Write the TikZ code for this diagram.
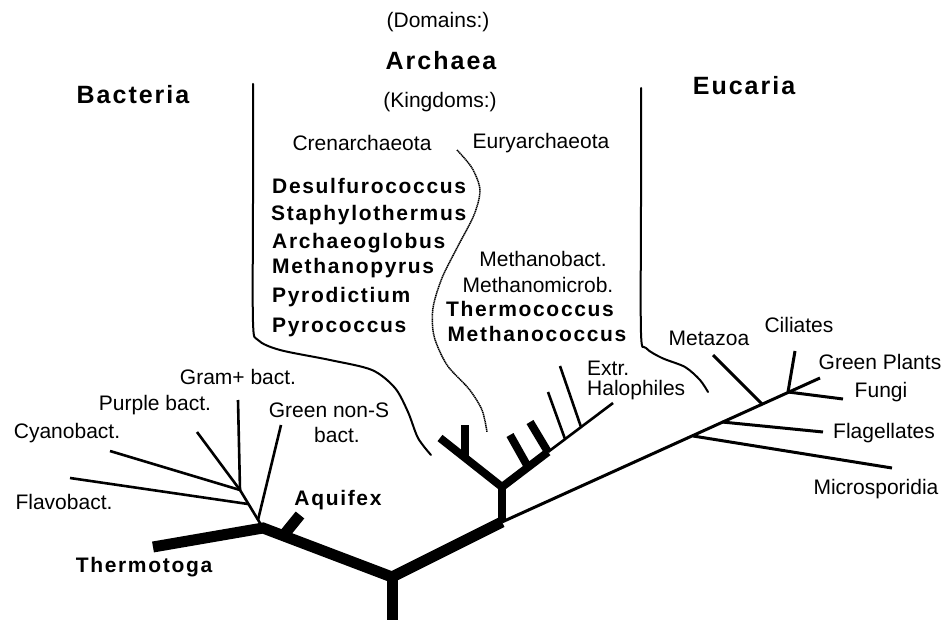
\documentclass[tikz,border=0pt]{standalone}
\usepackage{fontspec}
\setmainfont{Liberation Sans}
\newfontfamily\bsp[LetterSpace=8]{Liberation Sans}
\begin{document}
\begin{tikzpicture}[x=1pt,y=-1pt,
  lbl/.style={font=\fontsize{21}{24}\selectfont, inner sep=0pt},
  blbl/.style={font=\bsp\bfseries\fontsize{21}{24}\selectfont, inner sep=0pt},
  head/.style={font=\bsp\bfseries\fontsize{25}{28}\selectfont, inner sep=0pt},
  heavy/.style={line width=11pt, line cap=butt, line join=miter},
  medium/.style={line width=8pt, line cap=butt, line join=miter},
  thin/.style={line width=2.6pt, line cap=butt},
  euk/.style={line width=3pt, line cap=butt},
  bound/.style={line width=2pt, line cap=round},
  wavy/.style={line width=1.5pt, dash pattern=on 1.3pt off 0.6pt}]
\useasboundingbox (0,0) rectangle (948,620);
% ---- coordinates of the tree
\coordinate (base) at (392,620);
\coordinate (root) at (392,577);
\coordinate (bj) at (263,528);
\coordinate (thermo) at (153,547);
\coordinate (aqb) at (283,536);
\coordinate (aqt) at (300,515);
\coordinate (gnb) at (258,520);
\coordinate (gnt) at (281,425);
\coordinate (flb) at (248,504);
\coordinate (flt) at (70,478);
\coordinate (b3) at (240,490);
\coordinate (gpt) at (238,400);
\coordinate (put) at (197,432);
\coordinate (cyt) at (110,451);
\coordinate (aj) at (502,522);
\coordinate (aj2) at (502,487);
\coordinate (yl) at (440,438);
\coordinate (ysb) at (465,458);
\coordinate (yst) at (465,425);
\coordinate (rend) at (548,452);
\coordinate (rtip) at (613,403);
\coordinate (s1b) at (528,467);
\coordinate (s1t) at (510,435);
\coordinate (s2b) at (548,452);
\coordinate (s2t) at (530,422);
\coordinate (s3b) at (565,439);
\coordinate (s3t) at (548,392);
\coordinate (s4b) at (581,427);
\coordinate (s4t) at (560,366);
\coordinate (etip) at (820,378);
\coordinate (emi) at (693,436);
\coordinate (efl) at (722,422);
\coordinate (eme) at (762,404);
\coordinate (efu) at (788,392);
\coordinate (mit) at (892,468);
\coordinate (flgt) at (823,432);
\coordinate (met) at (713,355);
\coordinate (fut) at (843,399);
\coordinate (cit) at (795,351);
% ---- tree
\draw[heavy] (base) -- (root);
\draw[heavy] (thermo) -- (bj) -- (root) -- (aj);
\draw[heavy] (aqb) -- (aqt);
\draw[medium] (aj) -- (aj2);
\draw[medium] (yl) -- (aj2) -- (rend);
\draw[medium] (ysb) -- (yst);
\draw[medium] (s1b) -- (s1t);
\draw[medium] (s2b) -- (s2t);
\draw[thin] (rend) -- (rtip);
\draw[thin] (s3b) -- (s3t);
\draw[thin] (s4b) -- (s4t);
\draw[thin] (bj) -- (b3);
\draw[thin] (gnb) -- (gnt);
\draw[thin] (flb) -- (flt);
\draw[thin] (b3) -- (gpt);
\draw[thin] (b3) -- (put);
\draw[thin] (b3) -- (cyt);
\draw[euk] (aj) -- (etip);
\draw[euk] (emi) -- (mit);
\draw[euk] (efl) -- (flgt);
\draw[euk] (eme) -- (met);
\draw[euk] (efu) -- (fut);
\draw[euk] (efu) -- (cit);
% ---- boundaries
\draw[bound] plot[smooth] coordinates {(253,84) (253,200) (253,322) (258,340) (280,350) (330,360) (372,370) (395,388) (408,412) (418,438) (431,455)};
\draw[bound] plot[smooth] coordinates {(641,88) (641,200) (641,333) (646,348) (662,358) (685,367) (700,380) (708,392)};
\draw[wavy] plot[smooth] coordinates {(457,150) (472,168) (480,190) (474,215) (458,246) (442,278) (433,308) (434,336) (447,365) (469,389) (482,410) (487,432)};
% ---- labels
\node[lbl] (dom) at (438,22) {(Domains:)};
\node[head] (arch) at (441,61) {Archaea};
\node[head] (bact) at (133,95) {Bacteria};
\node[head] (euca) at (744,86) {Eucaria};
\node[lbl] (king) at (440,102) {(Kingdoms:)};
\node[lbl] (cren) at (362,143) {Crenarchaeota};
\node[lbl] (eury) at (541,143) {Euryarchaeota};
\node[blbl,anchor=west] (desu) at (272,186) {Desulfurococcus};
\node[blbl,anchor=west] (stap) at (271,215) {Staphylothermus};
\node[blbl,anchor=west] (arcg) at (272,243) {Archaeoglobus};
\node[blbl,anchor=west] (mepy) at (272,268) {Methanopyrus};
\node[blbl,anchor=west] (pydi) at (272,297) {Pyrodictium};
\node[blbl,anchor=west] (pyco) at (272,327) {Pyrococcus};
\node[lbl] (meba) at (543,259) {Methanobact.};
\node[lbl] (memi) at (538,285) {Methanomicrob.};
\node[blbl] (thco) at (530,309) {Thermococcus};
\node[blbl] (meco) at (537,334) {Methanococcus};
\node[lbl,anchor=west] (extr) at (587,368) {Extr.};
\node[lbl,anchor=west] (halo) at (587,390) {Halophiles};
\node[lbl] (gram) at (238,377) {Gram+ bact.};
\node[lbl] (purp) at (155,405) {Purple bact.};
\node[lbl] (cyan) at (67,433) {Cyanobact.};
\node[lbl] (gns) at (329,410) {Green non-S};
\node[lbl] (gns2) at (337,435) {bact.};
\node[lbl] (flav) at (64,502) {Flavobact.};
\node[blbl] (aqui) at (338,500) {Aquifex};
\node[blbl] (ther) at (144,567) {Thermotoga};
\node[lbl] (meta) at (709,338) {Metazoa};
\node[lbl] (cili) at (799,325) {Ciliates};
\node[lbl] (grpl) at (880,362) {Green Plants};
\node[lbl] (fung) at (881,392) {Fungi};
\node[lbl] (flag) at (884,433) {Flagellates};
\node[lbl] (micr) at (876,489) {Microsporidia};
\end{tikzpicture}
\end{document}
